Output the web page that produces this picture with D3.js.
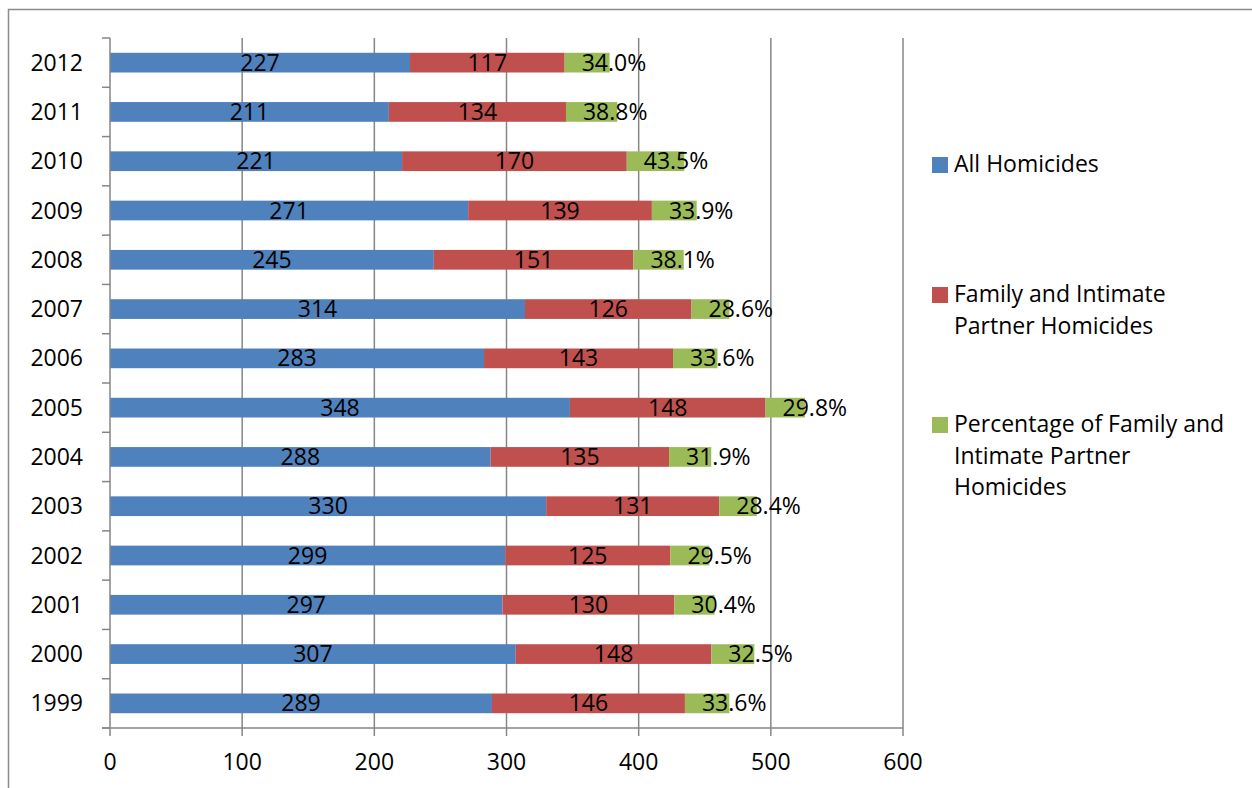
<!DOCTYPE html>
<html>
<head>
<meta charset="utf-8">
<script src="https://cdnjs.cloudflare.com/ajax/libs/d3/7.8.5/d3.min.js"></script>
<style>
  html, body { margin: 0; padding: 0; background: #fff; }
  svg { display: block; font-family: 'Open Sans', sans-serif; }
</style>
</head>
<body>
<svg id="chart" width="1252" height="788"></svg>
<script>
const years = ['2012', '2011', '2010', '2009', '2008', '2007', '2006', '2005', '2004', '2003', '2002', '2001', '2000', '1999'];
const allHomicides = [227, 211, 221, 271, 245, 314, 283, 348, 288, 330, 299, 297, 307, 289];
const familyHomicides = [117, 134, 170, 139, 151, 126, 143, 148, 135, 131, 125, 130, 148, 146];
const familyPct = [34.0, 38.8, 43.5, 33.9, 38.1, 28.6, 33.6, 29.8, 31.9, 28.4, 29.5, 30.4, 32.5, 33.6];
const xTicks = [0, 100, 200, 300, 400, 500, 600];
const seriesNames = [
  ['All Homicides'],
  ['Family and Intimate', 'Partner Homicides'],
  ['Percentage of Family and', 'Intimate Partner', 'Homicides']
];
const colors = ['#4f81bd', '#c0504d', '#9bbb59'];

const svg = d3.select('#chart');
const margin = { top: 38, left: 110 };
const width = 793;
const height = 690;
const grid = '#868686';

// outer chart frame
svg.append('rect')
  .attr('x', 8.5).attr('y', 9.5)
  .attr('width', 1300).attr('height', 900)
  .attr('fill', 'none')
  .attr('stroke', '#8c8c8c')
  .attr('stroke-width', 1.5);

const g = svg.append('g')
  .attr('transform', `translate(${margin.left},${margin.top})`);

const x = d3.scaleLinear().domain([0, 600]).range([0, width]);
const y = d3.scaleBand().domain(years).range([0, height]).paddingInner(0.6).paddingOuter(0.3);
const band = d3.scaleBand().domain(years).range([0, height]);

// vertical gridlines
g.append('g')
  .selectAll('line')
  .data(xTicks.slice(1))
  .join('line')
  .attr('x1', d => x(d)).attr('x2', d => x(d))
  .attr('y1', 0).attr('y2', height)
  .attr('stroke', grid)
  .attr('stroke-width', 1.5);

// stacked data
const rows = years.map((yr, i) => ({ year: yr, a: allHomicides[i], f: familyHomicides[i], p: familyPct[i] }));
const stack = d3.stack().keys(['a', 'f', 'p'])(rows);

stack.forEach((layer, k) => {
  g.append('g')
    .selectAll('rect')
    .data(layer)
    .join('rect')
    .attr('x', d => x(d[0]))
    .attr('y', d => y(d.data.year))
    .attr('width', d => x(d[1]) - x(d[0]))
    .attr('height', y.bandwidth())
    .attr('fill', colors[k]);
});

// value labels
const labelSize = 23;
stack.forEach((layer, k) => {
  g.append('g')
    .selectAll('text')
    .data(layer)
    .join('text')
    .attr('x', d => k === 2 ? x(d[0]) + 17 : (x(d[0]) + x(d[1])) / 2)
    .attr('y', d => y(d.data.year) + y.bandwidth() / 2 + 8)
    .attr('text-anchor', k === 2 ? 'start' : 'middle')
    .style('font-size', labelSize + 'px')
    .style('fill', '#000')
    .text(d => k === 2 ? d.data.p.toFixed(1) + '%' : d.data[k === 0 ? 'a' : 'f']);
});

// y axis
const yAxis = g.append('g');
yAxis.append('line')
  .attr('x1', 0).attr('x2', 0).attr('y1', 0).attr('y2', height)
  .attr('stroke', grid).attr('stroke-width', 1.5);
yAxis.selectAll('line.tick')
  .data(years.concat(['end']))
  .join('line')
  .attr('class', 'tick')
  .attr('x1', -8).attr('x2', 0)
  .attr('y1', (d, i) => i < years.length ? band(d) : height)
  .attr('y2', (d, i) => i < years.length ? band(d) : height)
  .attr('stroke', grid).attr('stroke-width', 1.5);
yAxis.selectAll('text')
  .data(years)
  .join('text')
  .attr('x', -27)
  .attr('y', d => band(d) + band.bandwidth() / 2 + 8)
  .attr('text-anchor', 'end')
  .style('font-size', labelSize + 'px')
  .style('fill', '#000')
  .text(d => d);

// x axis
const xAxis = g.append('g').attr('transform', `translate(0,${height})`);
xAxis.append('line')
  .attr('x1', -8).attr('x2', width)
  .attr('stroke', grid).attr('stroke-width', 1.5);
xAxis.selectAll('line.tick')
  .data(xTicks)
  .join('line')
  .attr('class', 'tick')
  .attr('x1', d => x(d)).attr('x2', d => x(d))
  .attr('y1', 0).attr('y2', 8)
  .attr('stroke', grid).attr('stroke-width', 1.5);
xAxis.selectAll('text')
  .data(xTicks)
  .join('text')
  .attr('x', d => x(d))
  .attr('y', 42)
  .attr('text-anchor', 'middle')
  .style('font-size', labelSize + 'px')
  .style('fill', '#000')
  .text(d => d);

// legend
const legendTops = [157, 287, 417];
const legend = svg.append('g');
seriesNames.forEach((lines, k) => {
  legend.append('rect')
    .attr('x', 932).attr('y', legendTops[k])
    .attr('width', 16).attr('height', 16)
    .attr('fill', colors[k]);
  const t = legend.append('text')
    .attr('x', 954)
    .attr('y', legendTops[k] + 15)
    .style('font-size', '23px')
    .style('fill', '#000');
  lines.forEach((line, j) => {
    t.append('tspan')
      .attr('x', 954)
      .attr('dy', j === 0 ? 0 : 31.5)
      .text(line);
  });
});
</script>
</body>
</html>
